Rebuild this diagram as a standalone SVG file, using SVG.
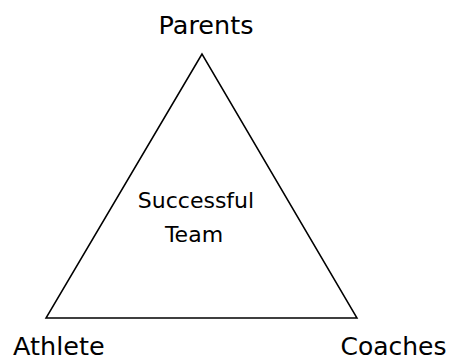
<svg xmlns="http://www.w3.org/2000/svg" width="453" height="361" viewBox="0 0 453 361">
<style>
text{font-family:"DejaVu Sans",Verdana,sans-serif;fill:#000}
.l{font-size:25.5px}
.c{font-size:22px}
</style>
<rect width="453" height="361" fill="#fff"/>
<g id="connectors">
<polygon points="202,54 46,318 357,318" fill="none" stroke="#000" stroke-width="1.5"/>
</g>
<g id="parents"><text class="l" x="206" y="34" text-anchor="middle">Parents</text></g>
<g id="athlete"><text class="l" x="13" y="355">Athlete</text></g>
<g id="coaches"><text class="l" x="393.5" y="355" text-anchor="middle" style="font-size:25px">Coaches</text></g>
<g id="team"><text class="c" x="196" y="208" text-anchor="middle">Successful</text><text class="c" x="194" y="242" text-anchor="middle">Team</text></g>
</svg>
